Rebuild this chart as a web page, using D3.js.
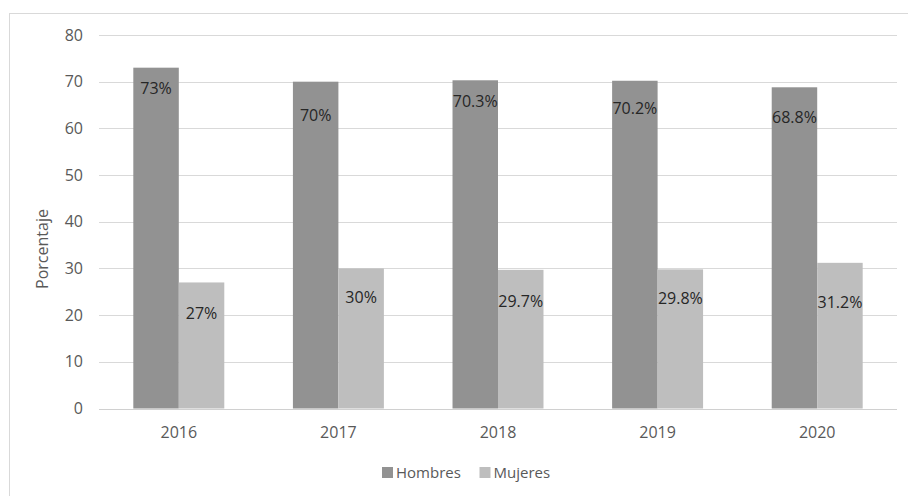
<!DOCTYPE html>
<html>
<head>
<meta charset="utf-8">
<script src="https://cdn.jsdelivr.net/npm/d3@7"></script>
<style>
body { margin: 0; background: #fff; }
svg { display: block; font-family: "Open Sans", sans-serif; }
</style>
</head>
<body>
<div id="chart"></div>
<script>
var years = ["2016", "2017", "2018", "2019", "2020"]
var series = ["Hombres", "Mujeres"]
var hombres = [73, 70, 70.3, 70.2, 68.8]
var mujeres = [27, 30, 29.7, 29.8, 31.2]
var yTicks = [0, 10, 20, 30, 40, 50, 60, 70, 80]

// label nudges below bar top (px), labels were placed by hand in the original
var labelDy = { Hombres: [21, 34, 21, 28, 30], Mujeres: [31, 29, 32, 29, 40] }

var width = 908, height = 496
var colors = { Hombres: "#929292", Mujeres: "#bebebe" }

var svg = d3.select("#chart").append("svg")
    .attr("width", width)
    .attr("height", height)

// chart frame
svg.append("rect")
    .attr("x", 9.5).attr("y", 13.5)
    .attr("width", 920).attr("height", 500)
    .attr("fill", "none")
    .attr("stroke", "#d9d9d9")

var x0 = d3.scaleBand().domain(years).range([99, 897])
var x1 = d3.scaleBand().domain(series)
    .range([0, x0.bandwidth()])
    .paddingInner(0).paddingOuter(0)
x1.range([x0.bandwidth() * 0.215, x0.bandwidth() * 0.785])
var y = d3.scaleLinear().domain([0, 80]).range([408.5, 35])

// gridlines
svg.append("g").selectAll("line")
    .data(yTicks)
    .enter().append("line")
    .attr("x1", 99).attr("x2", 897)
    .attr("y1", function(d) { return Math.round(y(d)) + 0.5 })
    .attr("y2", function(d) { return Math.round(y(d)) + 0.5 })
    .attr("stroke", "#d9d9d9")

// y tick labels
svg.append("g").selectAll("text")
    .data(yTicks)
    .enter().append("text")
    .attr("x", 83)
    .attr("y", function(d) { return y(d) })
    .attr("dy", "0.35em")
    .attr("text-anchor", "end")
    .attr("font-size", 16)
    .attr("fill", "#595959")
    .text(function(d) { return d })

// axis title
svg.append("text")
    .attr("transform", "translate(48,249) rotate(-90)")
    .attr("text-anchor", "middle")
    .attr("font-size", 16)
    .attr("fill", "#595959")
    .text("Porcentaje")

var rows = years.map(function(yr, i) {
    return { year: yr, i: i, values: [
        { key: "Hombres", v: hombres[i] },
        { key: "Mujeres", v: mujeres[i] }
    ] }
})

var groups = svg.append("g").selectAll("g")
    .data(rows)
    .enter().append("g")
    .attr("transform", function(d) { return "translate(" + x0(d.year) + ",0)" })

groups.selectAll("rect")
    .data(function(d) { return d.values })
    .enter().append("rect")
    .attr("x", function(d) { return x1(d.key) })
    .attr("y", function(d) { return y(d.v) })
    .attr("width", x1.bandwidth())
    .attr("height", function(d) { return y(0) - y(d.v) })
    .attr("fill", function(d) { return colors[d.key] })

groups.each(function(row) {
    d3.select(this).selectAll("text.lbl")
        .data(row.values)
        .enter().append("text")
        .attr("class", "lbl")
        .attr("x", function(d) { return x1(d.key) + x1.bandwidth() / 2 })
        .attr("y", function(d) { return y(d.v) + labelDy[d.key][row.i] })
        .attr("dy", "0.35em")
        .attr("text-anchor", "middle")
        .attr("font-size", 16)
        .attr("fill", "#262626")
        .text(function(d) { return d.v + "%" })
})

// baseline
svg.append("line")
    .attr("x1", 99).attr("x2", 897)
    .attr("y1", Math.round(y(0)) + 0.5).attr("y2", Math.round(y(0)) + 0.5)
    .attr("stroke", "#d0d0d0")

// x labels
svg.append("g").selectAll("text")
    .data(years)
    .enter().append("text")
    .attr("x", function(d) { return x0(d) + x0.bandwidth() / 2 })
    .attr("y", 432)
    .attr("dy", "0.35em")
    .attr("text-anchor", "middle")
    .attr("font-size", 16)
    .attr("fill", "#595959")
    .text(function(d) { return d })

// legend
var legX = [382, 479.5]
var legend = svg.append("g").selectAll("g")
    .data(series)
    .enter().append("g")
    .attr("transform", function(d, i) { return "translate(" + legX[i] + ",467)" })

legend.append("rect")
    .attr("width", 11).attr("height", 11)
    .attr("fill", function(d) { return colors[d] })

legend.append("text")
    .attr("x", 14)
    .attr("y", 5.5)
    .attr("dy", "0.35em")
    .attr("font-size", 15)
    .attr("fill", "#595959")
    .text(function(d) { return d })
</script>
</body>
</html>
